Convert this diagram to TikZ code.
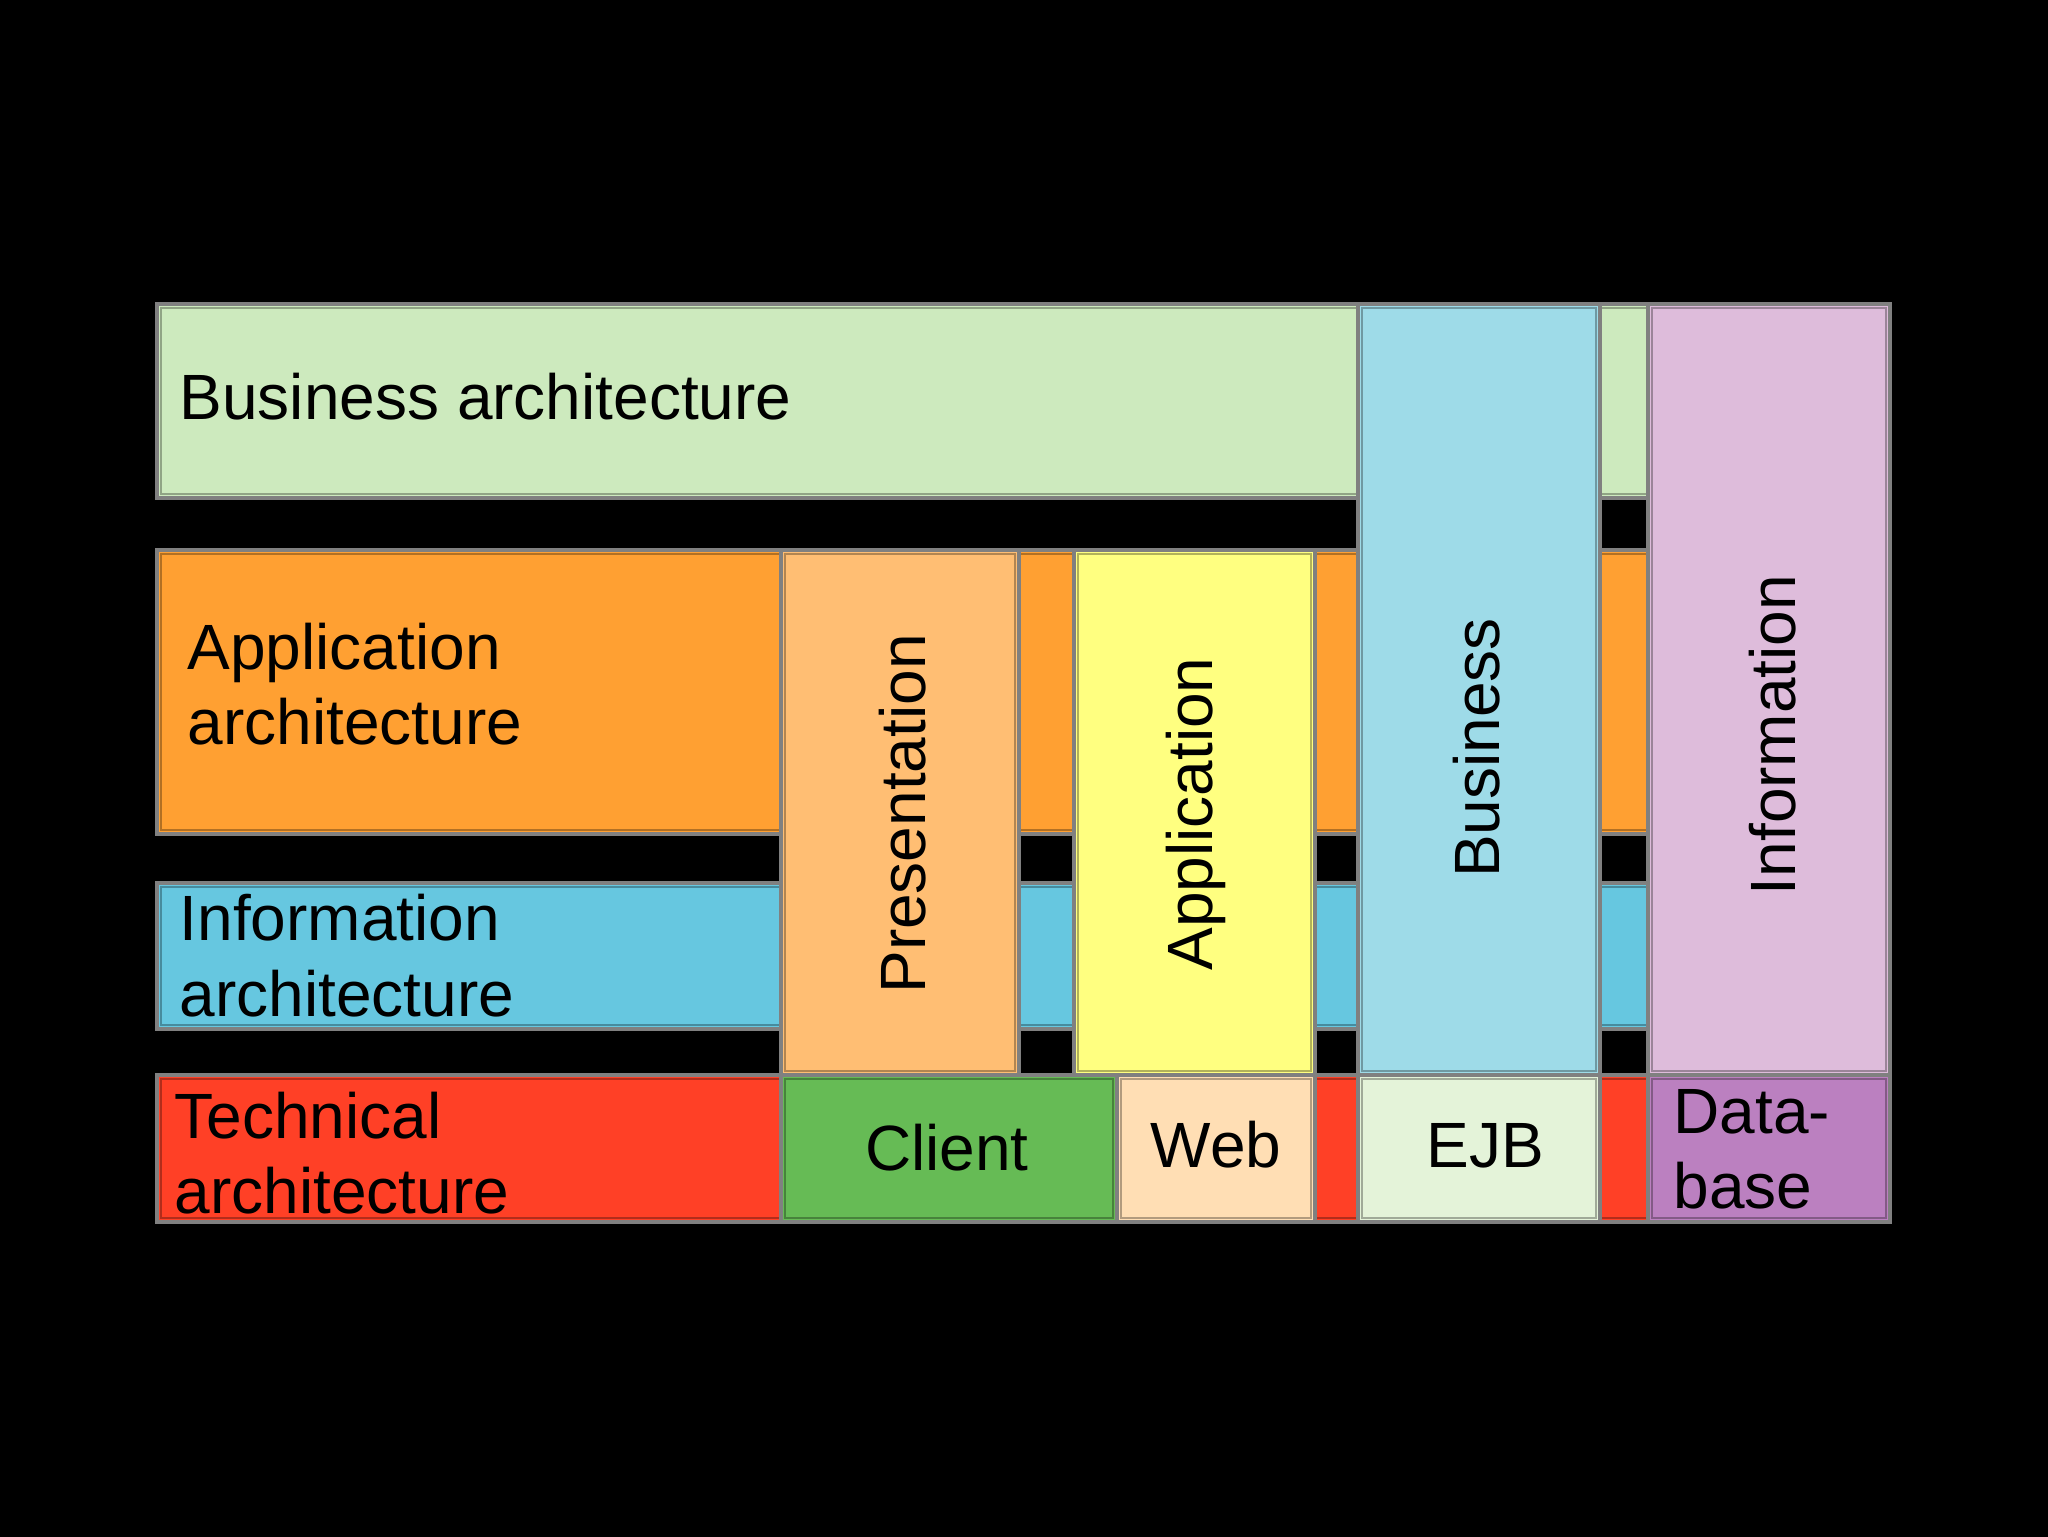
\documentclass[tikz,border=0pt]{standalone}
\usepackage{fontspec}
\setmainfont{Liberation Sans}
\definecolor{bordergray}{HTML}{808080}
\definecolor{cBizArch}{HTML}{CDEABE}
\definecolor{cAppArch}{HTML}{FFA032}
\definecolor{cInfArch}{HTML}{66C7E0}
\definecolor{cTecArch}{HTML}{FF4026}
\definecolor{cPres}{HTML}{FFBE73}
\definecolor{cAppl}{HTML}{FFFF80}
\definecolor{cBiz}{HTML}{9EDBE8}
\definecolor{cInf}{HTML}{DEBCDB}
\definecolor{cClient}{HTML}{66BB55}
\definecolor{cWeb}{HTML}{FFDEB4}
\definecolor{cEJB}{HTML}{E4F3D9}
\definecolor{cDB}{HTML}{BB80C0}
\newcommand\archbox[5]{%
  \fill[#5] (#1,#2) rectangle (#3,#4);
  \draw[#5!70!black, line width=0.7pt] (#1+4,#2+4) rectangle (#3-4,#4-4);
  \draw[bordergray, line width=1.1pt] (#1,#2) rectangle (#3,#4);
}
\begin{document}
\begin{tikzpicture}[x=0.01cm,y=-0.01cm,
  lbl/.style={font=\fontsize{18.2}{21.3}\selectfont, inner sep=0pt, text=black}]
\fill[black] (0,0) rectangle (2048,1537);
\useasboundingbox (0,0) rectangle (2048,1537);
% horizontal bands
\archbox{157}{304}{1890}{498}{cBizArch}
\archbox{157}{550}{1890}{834}{cAppArch}
\archbox{157}{883}{1890}{1029}{cInfArch}
\archbox{157}{1075}{1890}{1222}{cTecArch}
% vertical columns
\archbox{781}{550}{1019}{1075}{cPres}
\archbox{1074}{550}{1315}{1075}{cAppl}
\archbox{1358}{304}{1600}{1075}{cBiz}
\archbox{1648}{304}{1890}{1075}{cInf}
% technical cells
\archbox{781}{1075}{1117}{1222}{cClient}
\archbox{1117}{1075}{1315}{1222}{cWeb}
\archbox{1358}{1075}{1600}{1222}{cEJB}
\archbox{1648}{1075}{1890}{1222}{cDB}
% labels
\node[lbl, anchor=base west] (tBA) at (179,420) {Business architecture};
\node[lbl, anchor=base west] (tAA1) at (187,670) {Application};
\node[lbl, anchor=base west] (tAA2) at (187,745) {architecture};
\node[lbl, anchor=base west] (tIA1) at (179,941) {Information};
\node[lbl, anchor=base west] (tIA2) at (179,1016) {architecture};
\node[lbl, anchor=base west] (tTA1) at (174,1138) {Technical};
\node[lbl, anchor=base west] (tTA2) at (174,1213) {architecture};
\node[lbl, rotate=90, anchor=base] (tPres) at (925,814) {Presentation};
\node[lbl, rotate=90, anchor=base] (tAppl) at (1212,814) {Application};
\node[lbl, rotate=90, anchor=base] (tBiz) at (1499,748) {Business};
\node[lbl, rotate=90, anchor=base] (tInf) at (1795,735) {Information};
\node[lbl, anchor=base] (tClient) at (947,1170) {Client};
\node[lbl, anchor=base] (tWeb) at (1216,1167) {Web};
\node[lbl, anchor=base] (tEJB) at (1485,1167) {EJB};
\node[lbl, anchor=base west] (tDB1) at (1673,1133) {Data-};
\node[lbl, anchor=base west] (tDB2) at (1673,1208) {base};
\end{tikzpicture}
\end{document}
